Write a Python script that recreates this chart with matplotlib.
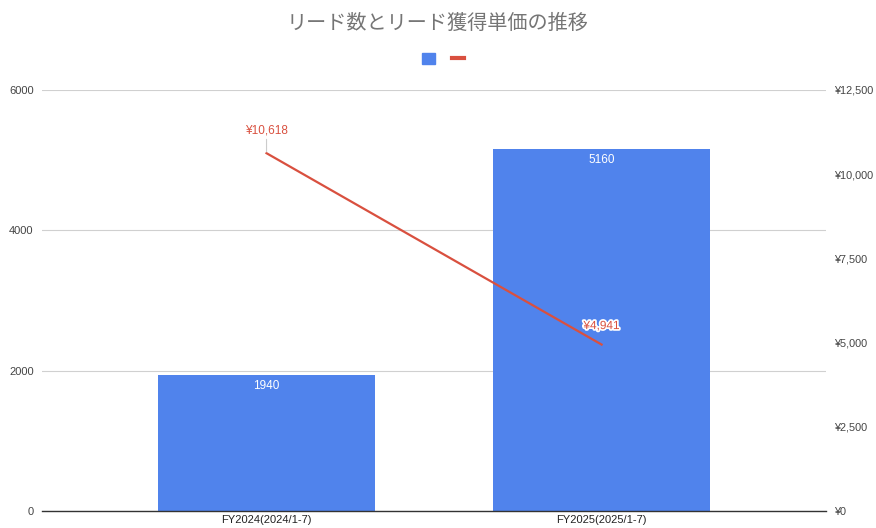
import matplotlib.pyplot as plt
import matplotlib.patheffects as pe
from matplotlib.patches import Patch
from matplotlib.lines import Line2D

categories = ['FY2024(2024/1-7)', 'FY2025(2025/1-7)']
leads = [1940, 5160]
cost_per_lead = [10618, 4941]
cost_labels = ['¥10,618', '¥4,941']

blue = '#5083ec'
red = '#d9503f'

plt.rcParams['font.family'] = ['Liberation Sans', 'DejaVu Sans']

fig = plt.figure(figsize=(8.76, 5.28), dpi=100)
ax = fig.add_axes([0.048, 0.032, 0.895, 0.798])
ax2 = ax.twinx()

x = list(range(len(categories)))
bars = ax.bar(x, leads, width=0.648, color=blue, zorder=2)
for xi, v in zip(x, leads):
    ax.text(xi, v - 70, str(v), ha='center', va='top', color='white', fontsize=8.5)

ax.set_xlim(-0.67, 1.67)
ax.set_ylim(0, 6000)
ax.set_yticks([0, 2000, 4000, 6000])
ax.set_xticks(x)
ax.set_xticklabels(categories, fontsize=8, color='#222222')
ax.grid(axis='y', color='#d0d0d0', linewidth=0.8, zorder=0)
ax.set_axisbelow(True)
ax.tick_params(axis='y', length=0, labelsize=8, labelcolor='#444444', pad=6)
ax.tick_params(axis='x', length=0, pad=3)
for s in ['top', 'left', 'right']:
    ax.spines[s].set_visible(False)
ax.spines['bottom'].set_color('#333333')
ax.spines['bottom'].set_linewidth(1.0)

ax2.plot(x, cost_per_lead, color=red, linewidth=1.6, zorder=3)
ax2.set_ylim(0, 12500)
ax2.set_yticks([0, 2500, 5000, 7500, 10000, 12500])
ax2.set_yticklabels(['¥0', '¥2,500', '¥5,000', '¥7,500', '¥10,000', '¥12,500'])
ax2.tick_params(axis='y', length=0, labelsize=7.8, labelcolor='#444444', pad=6)
for s in ['top', 'left', 'right', 'bottom']:
    ax2.spines[s].set_visible(False)

# labels for the line
ax2.annotate(cost_labels[0], xy=(x[0], cost_per_lead[0]), xytext=(0, 12),
             textcoords='offset points', ha='center', va='bottom', color=red, fontsize=8.5,
             arrowprops=dict(arrowstyle='-', color='#cccccc', lw=0.8, shrinkA=0, shrinkB=1))
ax2.annotate(cost_labels[1], xy=(x[1], cost_per_lead[1]), xytext=(0, 9),
             textcoords='offset points', ha='center', va='bottom', color=red, fontsize=8.5,
             path_effects=[pe.withStroke(linewidth=2.5, foreground='white')])

fig.text(0.5, 0.956, 'リード数とリード獲得単価の推移', ha='center', va='center', fontsize=14.5,
         color='#757575', family=['Noto Sans CJK JP', 'DejaVu Sans'])

handles = [Patch(color=blue), Line2D([0], [0], color=red, linewidth=3)]
fig.legend(handles, ['', ''], loc='center', bbox_to_anchor=(0.506, 0.888), ncol=2, frameon=False,
           handlelength=0.9, handleheight=0.9, columnspacing=1.2, handletextpad=0.0)

fig.savefig('out.png', dpi=100)
